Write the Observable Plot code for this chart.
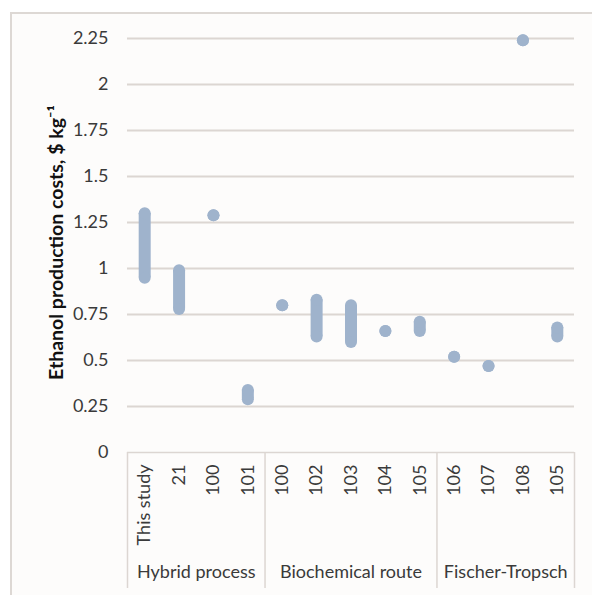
<!DOCTYPE html>
<html>
<head>
<meta charset="utf-8">
<script src="https://cdn.jsdelivr.net/npm/d3@7"></script>
<script src="https://cdn.jsdelivr.net/npm/@observablehq/plot@0.6"></script>
<style>
  html, body { margin: 0; padding: 0; background: #ffffff; }
  #wrap { position: relative; width: 592px; height: 595px; overflow: hidden; }
  #frame { position: absolute; left: 10px; top: 12px; width: 700px; height: 700px;
           border-left: 2px solid #ddd8d4; border-top: 2px solid #ddd8d4; background: #fdfcfb; }
  #chart { position: absolute; left: 0; top: 0; }
</style>
</head>
<body>
<div id="wrap"><div id="frame"></div><div id="chart"></div></div>
<script>
// Categories (reference numbers) and their groups
const labels = ["This study", "21", "100", "101", "100", "102", "103", "104", "105", "106", "107", "108", "105"];
const groupOf = ["Hybrid process", "Hybrid process", "Hybrid process", "Hybrid process",
                 "Biochemical route", "Biochemical route", "Biochemical route", "Biochemical route", "Biochemical route",
                 "Fischer-Tropsch", "Fischer-Tropsch", "Fischer-Tropsch", "Fischer-Tropsch"];
const groupNames = ["Hybrid process", "Biochemical route", "Fischer-Tropsch"];
// Ethanol production cost ranges, $ kg-1
const low  = [0.95, 0.78, 1.29, 0.29, 0.80, 0.63, 0.60, 0.66, 0.66, 0.52, 0.47, 2.24, 0.63];
const high = [1.30, 0.99, 1.29, 0.34, 0.80, 0.83, 0.80, 0.66, 0.71, 0.52, 0.47, 2.24, 0.68];
const yTicks = [0, 0.25, 0.5, 0.75, 1, 1.25, 1.5, 1.75, 2, 2.25];
const yTitle = "Ethanol production costs, $ kg\u207B\u00B9";

const data = labels.map((label, i) => ({i, label, group: groupOf[i], low: low[i], high: high[i]}));
const groups = groupNames.map(name => {
  const idx = data.filter(d => d.group === name).map(d => d.i);
  return {name, mid: (d3.min(idx) + d3.max(idx)) / 2};
});
const boundaries = [-0.5, ...groupNames.map(name => d3.max(data.filter(d => d.group === name), d => d.i) + 0.5)];

const fill = "#9fb3cc";
const lineColor = "#dcd6d2";

const chart = Plot.plot({
  width: 592,
  height: 595,
  marginTop: 38,
  marginBottom: 143,
  marginLeft: 127,
  marginRight: 18,
  style: {fontFamily: "Lato, 'Open Sans', sans-serif", fontSize: "18px", color: "#3a3a3a", background: "transparent", overflow: "visible"},
  x: {domain: [-0.5, labels.length - 0.5]},
  y: {domain: [0, 2.25]},
  marks: [
    Plot.gridY(yTicks.filter(d => d > 0), {stroke: lineColor, strokeOpacity: 1, strokeWidth: 2}),
    Plot.ruleY([0], {stroke: lineColor, strokeWidth: 1.5}),
    Plot.axisY({ticks: yTicks, tickSize: 0, tickPadding: 19, tickFormat: d => String(d), label: null}),
    Plot.axisX({ticks: d3.range(labels.length), tickSize: 0, tickRotate: -90, tickPadding: 12,
                tickFormat: i => labels[i], label: null}),
    Plot.axisX({ticks: boundaries, tickSize: 136, tickFormat: () => "", stroke: lineColor, strokeWidth: 1.5, label: null}),
    Plot.ruleX(data, {x: "i", y1: "low", y2: "high", stroke: fill, strokeWidth: 12}),
    Plot.dot(data, {x: "i", y: "low", r: 6, fill, stroke: null}),
    Plot.dot(data, {x: "i", y: "high", r: 6, fill, stroke: null}),
    Plot.text(groups, {x: "mid", text: "name", frameAnchor: "bottom", dy: 125, fill: "#3a3a3a"}),
    Plot.text([yTitle], {frameAnchor: "left", dx: -71, dy: -3, rotate: -90, textAnchor: "middle",
                         fontWeight: "bold", fontSize: 19.5, fill: "#111"})
  ]
});
document.getElementById("chart").appendChild(chart);
</script>
</body>
</html>
